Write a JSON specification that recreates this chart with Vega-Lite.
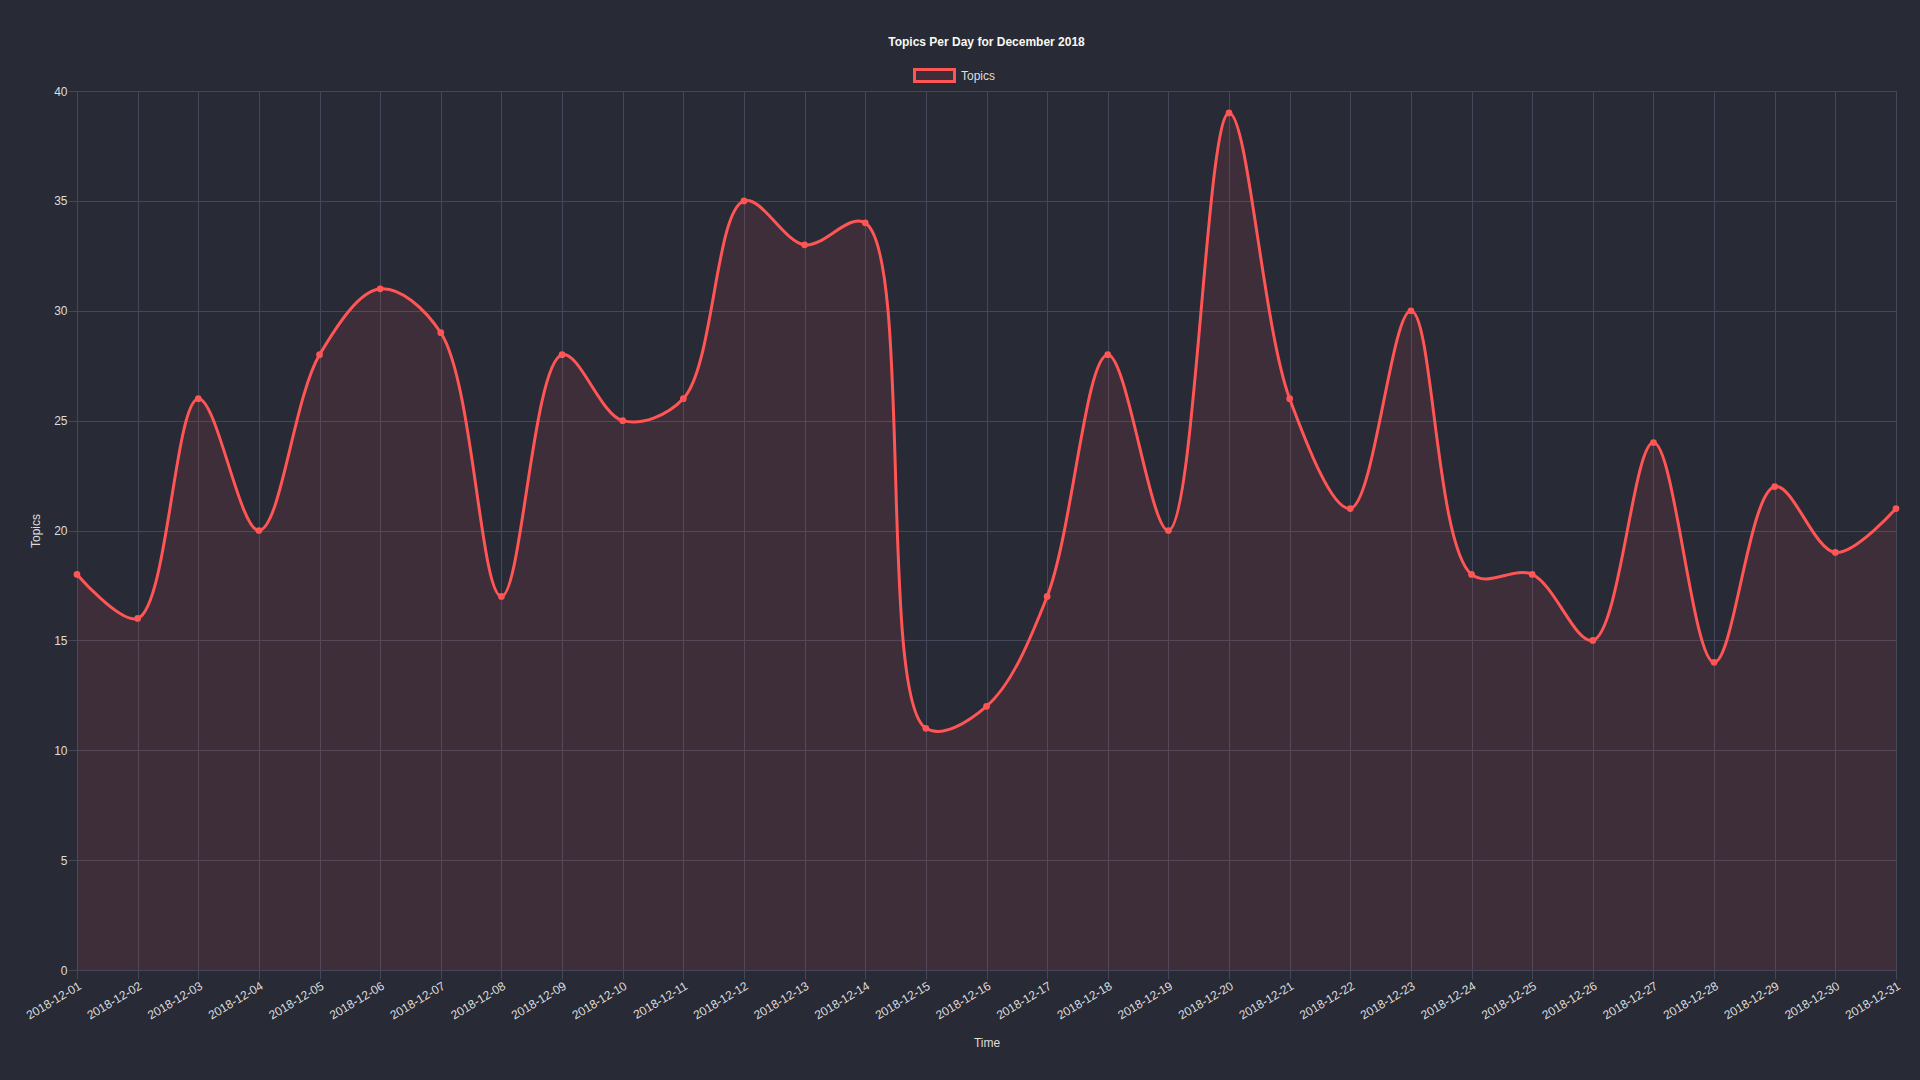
{
  "$schema": "https://vega.github.io/schema/vega-lite/v6.json",
  "width": 1819,
  "height": 879,
  "autosize": {"type": "none"},
  "padding": {"left": 77, "top": 91, "right": 24, "bottom": 110},
  "background": "#282a36",
  "config": {
    "view": {"stroke": null},
    "font": "Liberation Sans"
  },
  "title": {
    "text": "Topics Per Day for December 2018",
    "anchor": "middle",
    "fontSize": 12,
    "fontWeight": "bold",
    "color": "#f8f8f2",
    "offset": 5
  },
  "data": {
    "values": [
      {"date": "2018-12-01", "topics": 18},
      {"date": "2018-12-02", "topics": 16},
      {"date": "2018-12-03", "topics": 26},
      {"date": "2018-12-04", "topics": 20},
      {"date": "2018-12-05", "topics": 28},
      {"date": "2018-12-06", "topics": 31},
      {"date": "2018-12-07", "topics": 29},
      {"date": "2018-12-08", "topics": 17},
      {"date": "2018-12-09", "topics": 28},
      {"date": "2018-12-10", "topics": 25},
      {"date": "2018-12-11", "topics": 26},
      {"date": "2018-12-12", "topics": 35},
      {"date": "2018-12-13", "topics": 33},
      {"date": "2018-12-14", "topics": 34},
      {"date": "2018-12-15", "topics": 11},
      {"date": "2018-12-16", "topics": 12},
      {"date": "2018-12-17", "topics": 17},
      {"date": "2018-12-18", "topics": 28},
      {"date": "2018-12-19", "topics": 20},
      {"date": "2018-12-20", "topics": 39},
      {"date": "2018-12-21", "topics": 26},
      {"date": "2018-12-22", "topics": 21},
      {"date": "2018-12-23", "topics": 30},
      {"date": "2018-12-24", "topics": 18},
      {"date": "2018-12-25", "topics": 18},
      {"date": "2018-12-26", "topics": 15},
      {"date": "2018-12-27", "topics": 24},
      {"date": "2018-12-28", "topics": 14},
      {"date": "2018-12-29", "topics": 22},
      {"date": "2018-12-30", "topics": 19},
      {"date": "2018-12-31", "topics": 21}
    ]
  },
  "encoding": {
    "x": {
      "field": "date",
      "type": "ordinal",
      "scale": {"type": "point", "padding": 0},
      "axis": {
        "title": "Time",
        "titleColor": "#dddddd",
        "titleFontSize": 12,
        "titleFontWeight": "normal",
        "titlePadding": 16,
        "labelAngle": -31,
        "labelAlign": "right",
        "labelBaseline": "top",
        "labelPadding": 1,
        "labelColor": "#dddddd",
        "labelFontSize": 12,
        "labelOverlap": false,
        "grid": true,
        "gridColor": "#44475a",
        "gridWidth": 1,
        "tickColor": "#44475a",
        "tickSize": 9,
        "domainColor": "#44475a"
      }
    },
    "y": {
      "field": "topics",
      "type": "quantitative",
      "scale": {"domain": [0, 40], "nice": false},
      "axis": {
        "title": "Topics",
        "titleColor": "#dddddd",
        "titleFontSize": 12,
        "titleFontWeight": "normal",
        "titlePadding": 11,
        "values": [0, 5, 10, 15, 20, 25, 30, 35, 40],
        "labelColor": "#dddddd",
        "labelFontSize": 12,
        "labelPadding": 1,
        "grid": true,
        "gridColor": "#44475a",
        "gridWidth": 1,
        "tickColor": "#44475a",
        "tickSize": 9,
        "domainColor": "#44475a"
      }
    }
  },
  "layer": [
    {
      "mark": {"type": "area", "interpolate": "catmull-rom", "tension": 0.5, "fill": "#ff5555", "fillOpacity": 0.1}
    },
    {
      "mark": {"type": "line", "interpolate": "catmull-rom", "tension": 0.5, "strokeWidth": 3},
      "encoding": {
        "stroke": {
          "datum": "Topics",
          "scale": {"range": ["#ff5555"]},
          "legend": {
            "title": null,
            "orient": "none",
            "legendX": 836,
            "legendY": -37,
            "symbolType": "M-1,-0.3H1V0.3H-1Z",
            "symbolSize": 1600,
            "symbolFillColor": "#3e2e39",
            "symbolStrokeWidth": 3,
            "symbolOpacity": 1,
            "labelColor": "#dddddd",
            "labelFontSize": 12,
            "labelOffset": 5
          }
        }
      }
    },
    {
      "mark": {"type": "point", "filled": true, "color": "#ff5555", "size": 45, "opacity": 1}
    }
  ]
}
